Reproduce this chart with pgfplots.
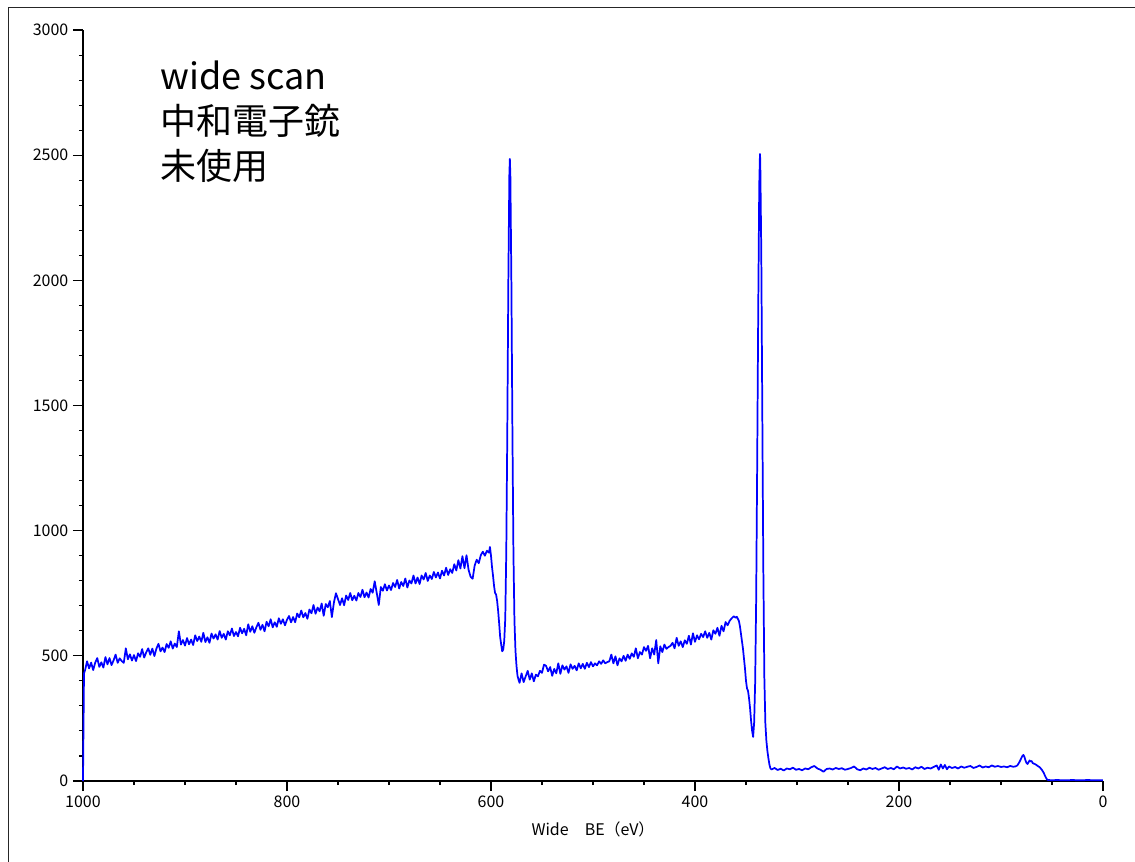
\documentclass[border=0pt]{standalone}
\usepackage{fontspec}
\setmainfont{Noto Sans CJK JP}
\usepackage{pgfplots}
\pgfplotsset{compat=1.18}
\begin{document}
\begin{tikzpicture}
\useasboundingbox (0,0) rectangle (851.25pt,645.75pt);
\draw[line width=0.75pt, black!85] (6pt,-2pt) -- (6pt,639.75pt) -- (853pt,639.75pt);
\begin{axis}[
  at={(62.25pt,60pt)}, anchor=south west,
  scale only axis, width=765pt, height=563.25pt,
  xmin=0, xmax=1000, ymin=0, ymax=3000,
  x dir=reverse,
  axis x line*=bottom, axis y line*=left,
  axis line style={-, black, line width=1pt},
  xtick={0,200,...,1000}, minor x tick num=3,
  ytick={0,500,...,3000}, minor y tick num=4,
  tick align=outside,
  major tick length=7.5pt, minor tick length=3pt,
  every tick/.style={black, line width=0.8pt},
  tick label style={font=\fontsize{12}{14}\selectfont},
  /pgf/number format/assume math mode=true,
  /pgf/number format/set thousands separator={},
  xlabel={Wide　BE（eV）},
  xlabel style={at={(axis description cs:0.5,0)}, anchor=base, yshift=-40.5pt, font=\fontsize{12}{14}\selectfont},
  clip=false,
]
\addplot[color={rgb,255:red,0;green,0;blue,255}, line width=1.3pt, line join=round] coordinates {
(1000,0) (999,430) (998,442) (996,478) (994,450) (992,473) (990,443) (988,473) (986,491) (984,456) (982,474) (980,453)
(978,495) (976,466) (974,491) (972,463) (970,482) (968,505) (966,472) (964,490) (962,479) (960,472) (958,530) (956,486)
(954,506) (952,481) (950,503) (948,479) (946,510) (944,496) (942,527) (940,493) (938,514) (936,530) (934,504) (932,529)
(930,499) (928,529) (926,548) (924,518) (922,533) (920,515) (918,547) (916,532) (914,558) (912,529) (910,549) (908,535)
(906,598) (904,545) (902,563) (900,541) (898,571) (896,546) (894,565) (892,543) (890,582) (888,559) (886,577) (884,556)
(882,592) (880,555) (878,574) (876,552) (874,589) (872,569) (870,586) (868,565) (866,599) (864,572) (862,588) (860,565)
(858,598) (856,582) (854,609) (852,579) (850,595) (848,578) (846,612) (844,590) (842,608) (840,582) (838,626) (836,596)
(834,618) (832,592) (830,614) (828,632) (826,604) (824,624) (822,598) (820,636) (818,618) (816,646) (814,614) (812,634)
(810,616) (808,650) (806,628) (804,646) (802,622) (800,644) (798,659) (796,634) (794,655) (792,634) (790,669) (788,654)
(786,681) (784,654) (782,671) (780,648) (778,685) (776,670) (774,703) (772,668) (770,693) (768,678) (766,709) (764,660)
(762,707) (760,694) (758,719) (756,655) (754,713) (752,750) (750,727) (748,703) (746,730) (744,702) (742,741) (740,723)
(738,751) (736,722) (734,740) (732,721) (730,751) (728,735) (726,764) (724,734) (722,753) (720,733) (718,767) (716,752)
(714,798) (712,751) (710,703) (708,775) (706,760) (704,786) (702,761) (700,781) (698,763) (696,791) (694,775) (692,803)
(690,769) (688,795) (686,779) (684,809) (682,773) (680,801) (678,789) (676,821) (674,789) (672,813) (670,787) (668,821)
(666,805) (664,831) (662,799) (660,821) (658,807) (656,835) (654,813) (652,833) (650,809) (648,840) (646,821) (644,852)
(642,823) (640,846) (638,831) (636,866) (634,841) (632,882) (630,849) (628,898) (626,850) (624,902) (622,844) (620,816)
(618,808) (616,861) (614,884) (612,870) (610,902) (608,916) (606,900) (604,920) (602,912) (601,935) (600,900) (599,855)
(598,820) (597,780) (596,751) (595,745) (594,720) (593,680) (592,630) (591,575) (590,545) (589,518) (588,525) (587,560)
(586,650) (585,920) (584,1400) (583,1990) (582,2420) (581.5,2485) (581,2420) (580,1990) (579,1400) (578,912) (577,640)
(576,520) (575,460) (574,420) (573,405) (572,392)
(570,430) (568,395) (566,418) (564,440) (562,405) (560,430) (558,398) (556,425) (554,418) (552,440) (550,432) (548,465)
(546,460) (544,438) (542,455) (540,420) (538,448) (536,430) (534,470) (532,428) (530,462) (528,445) (526,458) (524,432)
(522,466) (520,448) (518,460) (516,442) (514,470) (512,450) (510,468) (508,448) (506,472) (504,455) (502,475) (500,458)
(498,470) (496,462) (494,478) (492,468) (490,482) (488,470) (486,475) (484,478) (482,505) (480,470) (478,498) (476,462)
(474,490) (472,478) (470,500) (468,480) (466,505) (464,488) (462,510) (460,496) (458,530) (456,490) (454,515) (452,505)
(450,535) (448,520) (446,540) (444,490) (442,530) (440,505) (438,563) (436,470) (434,538) (432,515) (430,545) (428,528)
(426,535) (424,540) (422,552) (420,530) (418,572) (416,540) (414,558) (412,535) (410,562) (408,548) (406,580) (404,545)
(402,590) (400,556) (398,582) (396,566) (394,588) (392,575) (390,598) (388,572) (386,592) (384,565) (382,602) (380,588)
(378,612) (376,580) (374,620) (372,598) (370,635) (368,622) (366,640) (364,650) (362,658) (360,652) (359,656) (358,648)
(357,640) (356,620) (355,590) (354,560) (353,530) (352,490) (351,450) (350,400) (349,370) (348,360) (347,330) (346,290)
(345,240) (344,200) (343,176) (342,234) (341,395) (340,733) (339,1280) (338,1880) (337,2380) (336.3,2505) (336,2480)
(335,2108) (334,1468) (333,846) (332,413) (331,230) (330,160) (329,120) (328,90) (327,65) (326,50)
(325,46) (322,52) (319,44) (316,49) (313,42) (310,50) (307,47) (304,53) (301,45) (298,48) (295,43) (292,50) (289,47)
(286,55) (283,60) (280,50) (277,45) (274,37) (271,48) (268,50) (265,46) (262,52) (259,48) (256,51) (253,45) (250,48)
(247,52) (244,58) (241,47) (238,43) (235,50) (232,46) (229,53) (226,48) (223,52) (220,45) (217,50) (214,55) (211,48)
(208,52) (205,47) (202,58) (199,50) (196,54) (193,49) (190,52) (187,46) (184,55) (181,50) (178,57) (175,48) (172,53)
(169,50) (166,56) (163,62) (161,45) (159,66) (157,50) (155,64) (153,47) (151,58) (148,52) (145,56) (142,50) (139,58)
(136,53) (133,57) (130,60) (127,52) (124,56) (121,62) (118,54) (115,58) (112,55) (109,62) (106,57) (103,60) (100,56)
(97,58) (94,55) (91,60) (88,57) (86,58) (84,62) (82,75) (80,92) (79,100) (78,104) (77,96) (76,82) (75,72) (74,68)
(73,75) (72,82) (71,78) (70,80) (69,72) (68,70) (66,66) (64,60) (62,55) (60,45) (58,32) (57,22) (56,14) (55,7) (54,4)
(50,3) (45,4) (40,3) (35,3) (30,4) (25,3) (20,3) (15,4) (10,3) (5,3) (0,3)
};
\end{axis}
\begin{scope}[every node/.style={anchor=base west, inner sep=0pt, font=\fontsize{27}{33.75}\selectfont}]
\node at (120pt,578.25pt) {wide scan};
\node at (120pt,544.5pt) {中和電子銃};
\node at (120pt,510.75pt) {未使用};
\end{scope}
\end{tikzpicture}
\end{document}
